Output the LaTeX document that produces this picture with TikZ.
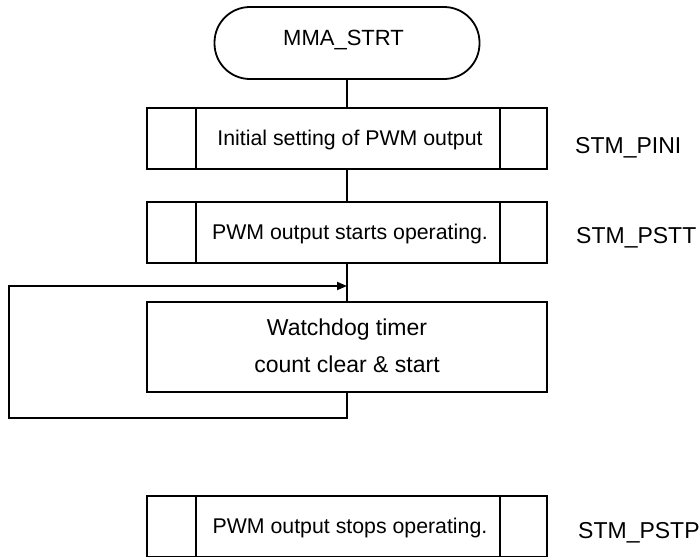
\documentclass[tikz,border=0pt]{standalone}
\usepackage{fontspec}
\setmainfont{Liberation Sans}
\usetikzlibrary{arrows.meta}
\tikzset{
  ln/.style={line width=1.8pt},
  term/.style={draw, ln, rounded corners=35.5pt, minimum width=265pt, minimum height=72pt, inner sep=0pt},
  proc/.style={draw, ln, minimum width=400pt, minimum height=61pt, inner sep=0pt,
    path picture={
      \draw[ln] ([xshift=49pt]path picture bounding box.north west) -- ([xshift=49pt]path picture bounding box.south west);
      \draw[ln] ([xshift=-47pt]path picture bounding box.north east) -- ([xshift=-47pt]path picture bounding box.south east);
    }},
  plain/.style={draw, ln, minimum width=400pt, minimum height=90pt, inner sep=0pt},
  boxtxt/.style={inner sep=0pt, anchor=base, font=\fontsize{21.3pt}{25pt}\selectfont},
  bigtxt/.style={inner sep=0pt, anchor=base, font=\fontsize{23pt}{27pt}\selectfont},
  lbl/.style={inner sep=0pt, anchor=base west, font=\fontsize{23pt}{27pt}\selectfont},
  conn/.style={ln},
}
\begin{document}
\begin{tikzpicture}[x=1pt,y=-1pt]
\useasboundingbox (0,0) rectangle (699,557);
% shapes
\node[term] (start) at (347,43) {};
\node[proc] (b1) at (347,138.5) {};
\node[proc] (b2) at (347,232.5) {};
\node[plain] (wd) at (347,347) {};
\node[proc] (b3) at (347,526.5) {};
% texts
\node[bigtxt, font=\fontsize{22pt}{26pt}\selectfont] (t0) at (343.5,45) {MMA\_STRT};
\node[boxtxt] (t1) at (350,145) {Initial setting of PWM output};
\node[boxtxt] (t2) at (350,239.3) {PWM output starts operating.};
\node[bigtxt] (t3a) at (347,335) {Watchdog timer};
\node[bigtxt] (t3b) at (347,372.3) {count clear \& start};
\node[boxtxt] (t4) at (350,533.3) {PWM output stops operating.};
\node[lbl] (l1) at (575,153) {STM\_PINI};
\node[lbl] (l2) at (576,243.3) {STM\_PSTT};
\node[lbl] (l3) at (578,538.3) {STM\_PSTP};
% connectors
\coordinate (lp) at (347,418);
\coordinate (lb) at (9,418);
\coordinate (lt) at (9,286);
\coordinate (arr) at (347,286);
\draw[conn] (start.south) -- (b1.north);
\draw[conn] (b1.south) -- (b2.north);
\draw[conn] (b2.south) -- (wd.north);
\draw[conn, -{Triangle[length=10pt,width=8pt]}] (wd.south) -- (lp) -- (lb) -- (lt) -- (arr);
\end{tikzpicture}
\end{document}
